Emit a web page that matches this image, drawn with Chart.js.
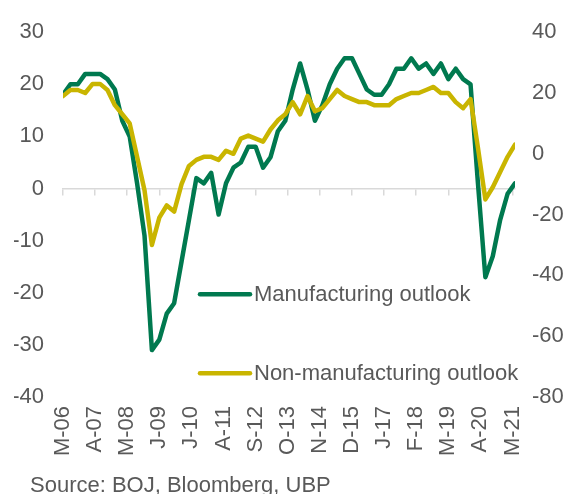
<!DOCTYPE html>
<html>
<head>
<meta charset="utf-8">
<script src="https://cdn.jsdelivr.net/npm/chart.js@4.4.1/dist/chart.umd.min.js"></script>
<style>
  html, body { margin: 0; padding: 0; background: #fff; overflow: hidden; }
  #wrap { position: relative; width: 568px; height: 494px; overflow: hidden; }
  #source { position: absolute; left: 30px; top: 472px; font: 22px "Liberation Sans", Arial, sans-serif; color: #595959; white-space: nowrap; }
</style>
</head>
<body>
<div id="wrap">
  <canvas id="outlookChart" width="568" height="494"></canvas>
  <div id="source">Source: BOJ, Bloomberg, UBP</div>
</div>
<script>
// survey quarters (year-month)
const quarters = [
  '2006-03','2006-06','2006-09','2006-12','2007-03','2007-06','2007-09','2007-12',
  '2008-03','2008-06','2008-09','2008-12','2009-03','2009-06','2009-09','2009-12',
  '2010-03','2010-06','2010-09','2010-12','2011-03','2011-06','2011-09','2011-12',
  '2012-03','2012-06','2012-09','2012-12','2013-03','2013-06','2013-09','2013-12',
  '2014-03','2014-06','2014-09','2014-12','2015-03','2015-06','2015-09','2015-12',
  '2016-03','2016-06','2016-09','2016-12','2017-03','2017-06','2017-09','2017-12',
  '2018-03','2018-06','2018-09','2018-12','2019-03','2019-06','2019-09','2019-12',
  '2020-03','2020-06','2020-09','2020-12','2021-03','2021-06'
];

// left axis
const manufacturing = [
  18, 20, 20, 22, 22, 22, 21, 19, 13, 10, 1, -9, -31, -29, -24, -22,
  -14, -6, 2, 1, 3, -5, 1, 4, 5, 8, 8, 4, 6, 11, 13, 19,
  24, 19, 13, 16, 20, 23, 25, 25, 22, 19, 18, 18, 20, 23, 23, 25,
  23, 24, 22, 24, 21, 23, 21, 20, 1, -17, -13, -6, -1, 1
];

// right axis
const nonManufacturing = [
  19, 21, 21, 20, 23, 23, 21, 16, 13, 10, -1, -12, -30, -21, -17, -19,
  -10, -4, -2, -1, -1, -2, 1, 0, 5, 6, 5, 4, 8, 11, 13, 17,
  13, 19, 14, 15, 18, 21, 19, 18, 17, 17, 16, 16, 16, 18, 19, 20,
  20, 21, 22, 20, 20, 17, 15, 18, 2, -15, -11, -6, -1, 3
];

const tickDates = [
  '2006-03','2007-04','2008-05','2009-06','2010-07','2011-08','2012-09','2013-10',
  '2014-11','2015-12','2017-01','2018-02','2019-03','2020-04','2021-05'
];
const tickLabels = ['M-06','A-07','M-08','J-09','J-10','A-11','S-12','O-13','N-14','D-15','J-17','F-18','M-19','A-20','M-21'];

const GREEN = '#00794f';
const YELLOW = '#c9b500';
const GREY_TEXT = '#595959';
const FONT_SIZE = 22;

// months since first quarter
function monthIndex(s) {
  const [y, m] = s.split('-').map(Number);
  return (y - 2006) * 12 + (m - 3);
}

const xMax = monthIndex(quarters[quarters.length - 1]);
const tickMonths = tickDates.map(monthIndex);

Chart.defaults.font.family = '"Liberation Sans", Arial, sans-serif';
Chart.defaults.font.size = FONT_SIZE;
Chart.defaults.color = GREY_TEXT;

// legend drawn inside the plot, like the original
const insideLegend = {
  id: 'insideLegend',
  afterDatasetsDraw(chart) {
    const { ctx, chartArea } = chart;
    const rows = [
      { ds: chart.data.datasets[1], dy: 262 },
      { ds: chart.data.datasets[0], dy: 341 }
    ];
    ctx.save();
    ctx.font = FONT_SIZE + 'px "Liberation Sans", Arial, sans-serif';
    ctx.textBaseline = 'middle';
    ctx.fillStyle = GREY_TEXT;
    rows.forEach(r => {
      const x0 = chartArea.left + 137;
      const y0 = chartArea.top + r.dy;
      ctx.strokeStyle = r.ds.borderColor;
      ctx.lineWidth = 4.5;
      ctx.lineCap = 'round';
      ctx.beginPath();
      ctx.moveTo(x0, y0);
      ctx.lineTo(x0 + 50, y0);
      ctx.stroke();
      ctx.fillText(r.ds.label, x0 + 54, y0 + 1);
    });
    ctx.restore();
  }
};

const setTicks = axis => { axis.ticks = tickMonths.map(v => ({ value: v })); };

const ctx = document.getElementById('outlookChart').getContext('2d');
new Chart(ctx, {
  type: 'line',
  data: {
    datasets: [
      {
        label: 'Non-manufacturing outlook',
        data: nonManufacturing.map((v, i) => ({ x: monthIndex(quarters[i]), y: v })),
        borderColor: YELLOW,
        yAxisID: 'y1',
        xAxisID: 'x',
        order: 0
      },
      {
        label: 'Manufacturing outlook',
        data: manufacturing.map((v, i) => ({ x: monthIndex(quarters[i]), y: v })),
        borderColor: GREEN,
        yAxisID: 'y',
        xAxisID: 'x',
        order: 1
      }
    ]
  },
  options: {
    responsive: false,
    animation: false,
    layout: { padding: { left: 14, right: 4, top: 19, bottom: 36 } },
    elements: {
      line: { borderWidth: 4.5, tension: 0, borderJoinStyle: 'round', borderCapStyle: 'round', fill: false },
      point: { radius: 0 }
    },
    plugins: { legend: { display: false }, tooltip: { enabled: false } },
    scales: {
      x: { type: 'linear', min: 0, max: xMax, display: false },
      xZero: {
        axis: 'x',
        type: 'linear',
        position: { y: 0 },
        min: 0, max: xMax,
        afterBuildTicks: setTicks,
        grid: { display: true, drawOnChartArea: false, drawTicks: true, tickLength: 6, color: '#d9d9d9', lineWidth: 1.5 },
        border: { display: true, color: '#d9d9d9', width: 1.5 },
        ticks: { display: false }
      },
      xLabels: {
        axis: 'x',
        type: 'linear',
        position: 'bottom',
        min: 0, max: xMax,
        afterBuildTicks: setTicks,
        afterFit: s => { s.height = 61; },
        grid: { display: false, drawTicks: false },
        border: { display: false },
        ticks: {
          minRotation: 90, maxRotation: 90, autoSkip: false, padding: 9,
          callback: (v, i) => tickLabels[i]
        }
      },
      y: {
        position: 'left',
        min: -40, max: 30,
        afterFit: s => { s.width = 49; },
        grid: { display: false, drawTicks: false },
        border: { display: false },
        ticks: { stepSize: 10, padding: 19 }
      },
      y1: {
        position: 'right',
        min: -80, max: 40,
        afterFit: s => { s.width = 49; },
        grid: { display: false, drawTicks: false },
        border: { display: false },
        ticks: { stepSize: 20, padding: 17 }
      }
    }
  },
  plugins: [insideLegend]
});
</script>
</body>
</html>
